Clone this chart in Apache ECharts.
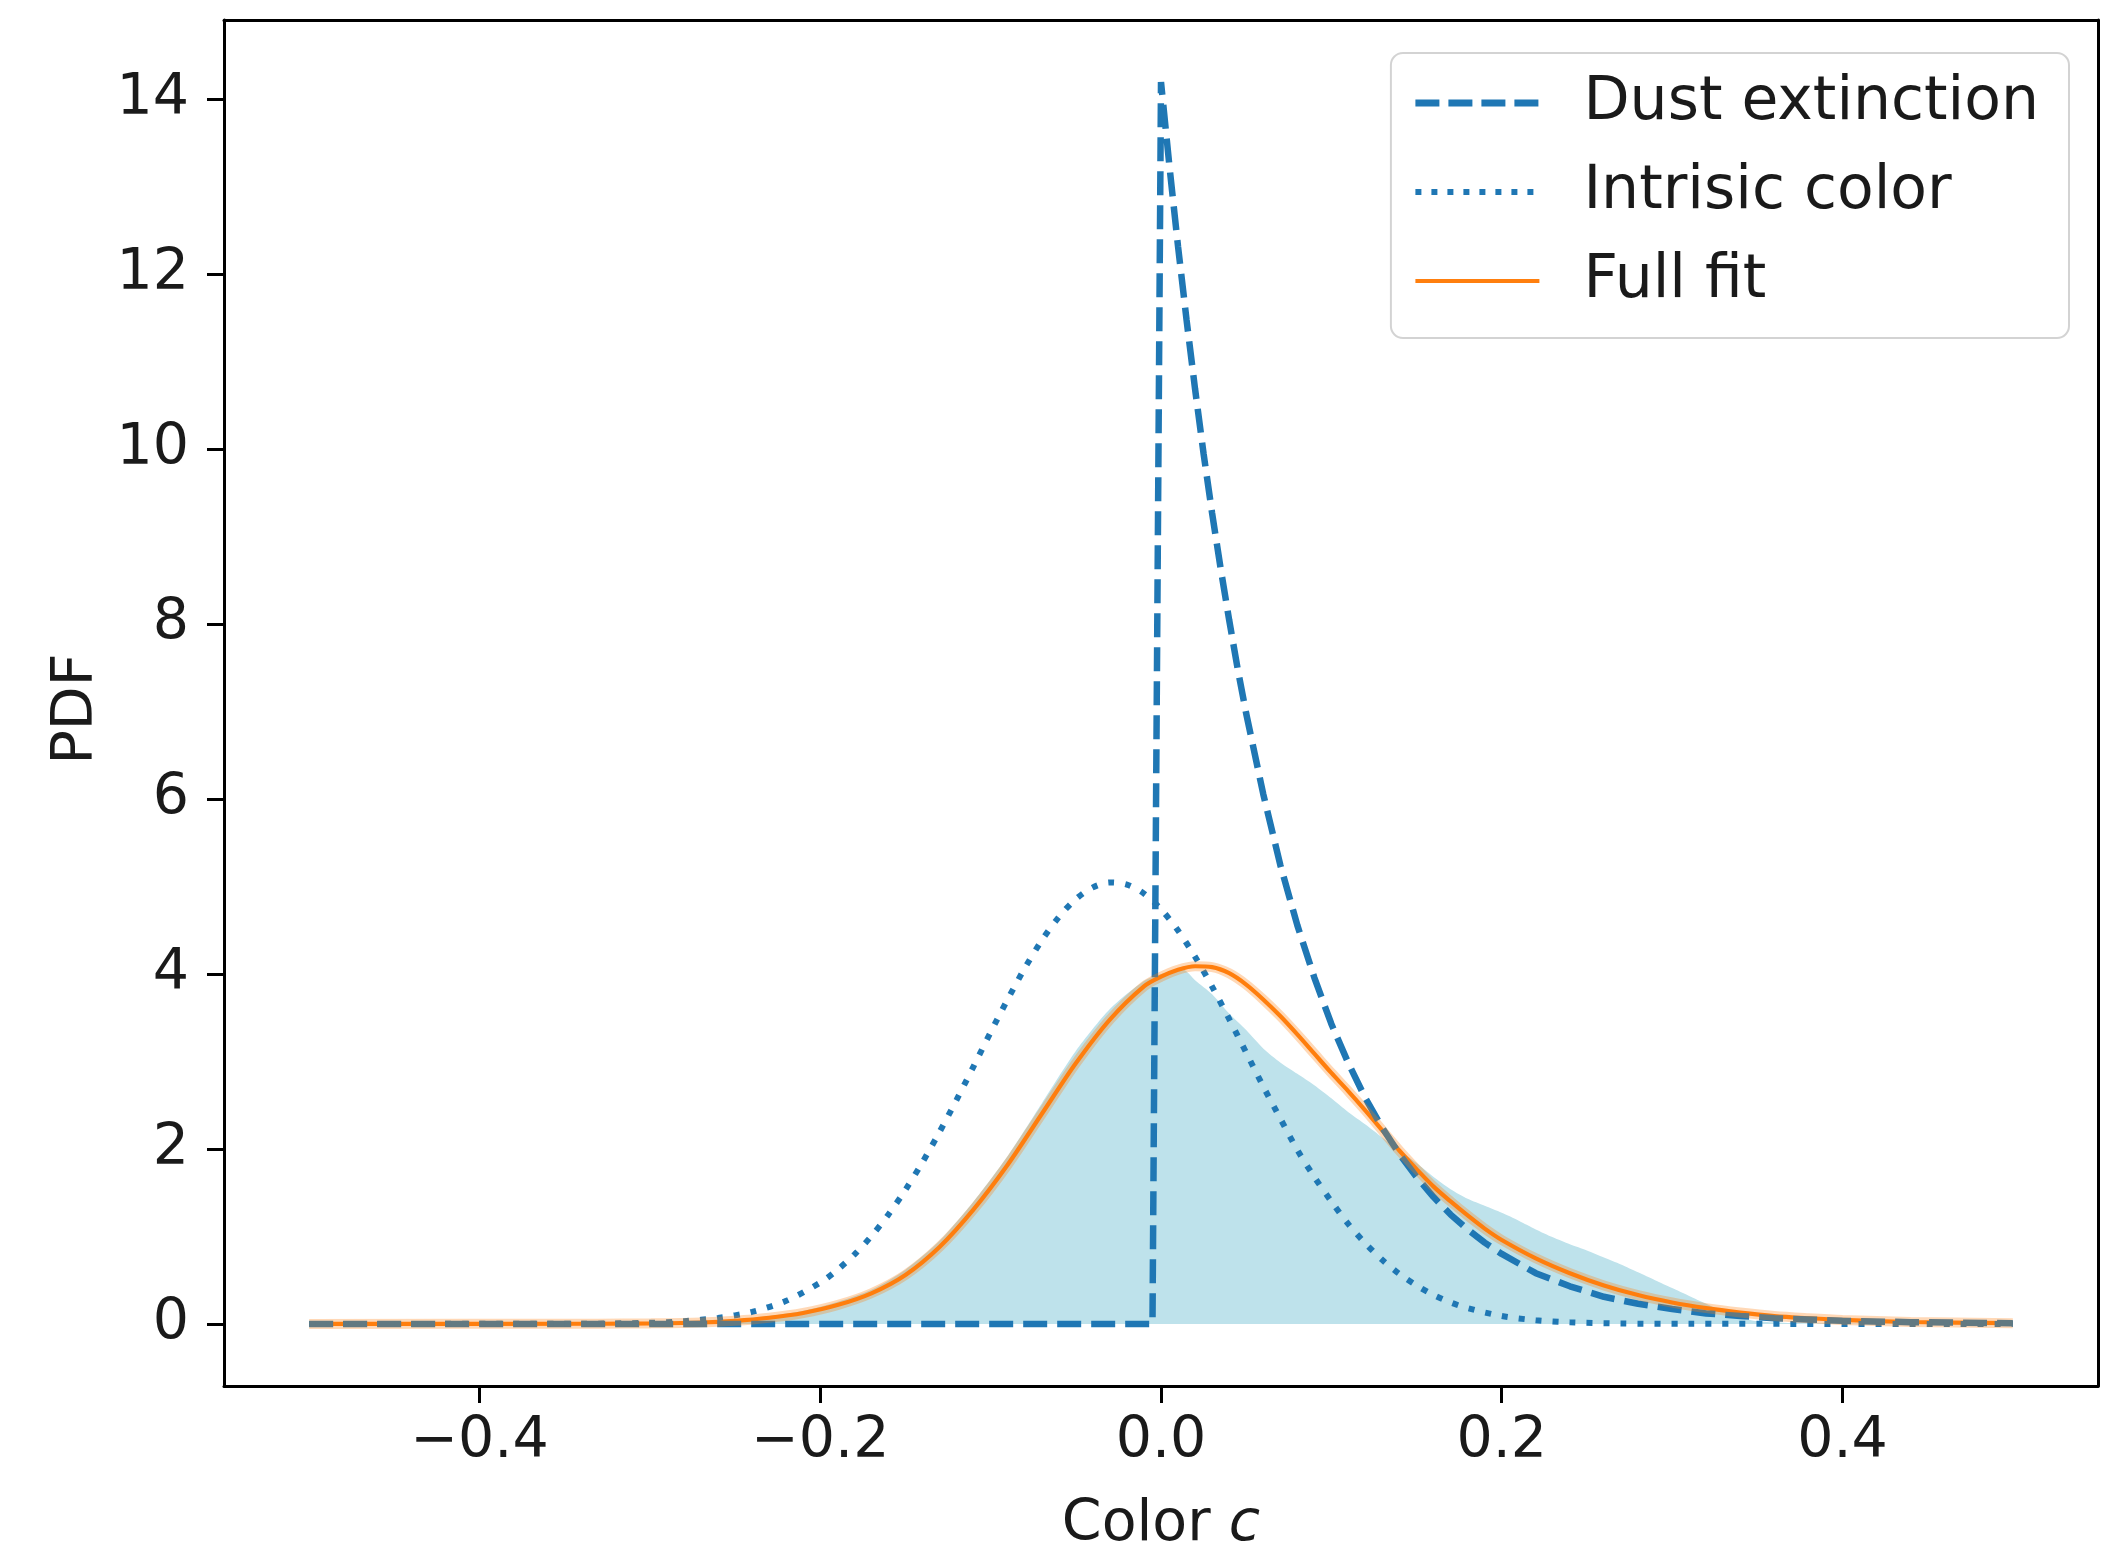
<!DOCTYPE html>
<html>
<head>
<meta charset="utf-8">
<script src="https://cdn.jsdelivr.net/npm/echarts@6/dist/echarts.min.js"></script>
<style>
html,body{margin:0;padding:0;background:#fff;}
#c{width:2120px;height:1546px;}
</style>
</head>
<body>
<div id="c"></div>
<script>
// ---- data ----
var xTicks = [-0.4, -0.2, 0.0, 0.2, 0.4];
var yTicks = [0, 2, 4, 6, 8, 10, 12, 14];

var dustX = [-0.5, -0.005, 0, 0.005, 0.01, 0.015, 0.02, 0.025, 0.03, 0.035, 0.04, 0.045, 0.05, 0.06, 0.07, 0.08, 0.09, 0.10, 0.11, 0.12, 0.13, 0.14, 0.15, 0.16, 0.17, 0.18, 0.19, 0.20, 0.22, 0.24, 0.26, 0.28, 0.30, 0.32, 0.34, 0.36, 0.38, 0.40, 0.44, 0.50];
var dustY = [0, 0, 14.2, 13.23, 12.32, 11.48, 10.69, 9.95, 9.27, 8.64, 8.05, 7.49, 6.98, 6.06, 5.25, 4.56, 3.96, 3.43, 2.98, 2.58, 2.24, 1.94, 1.68, 1.45, 1.25, 1.08, 0.93, 0.80, 0.58, 0.43, 0.31, 0.23, 0.17, 0.12, 0.09, 0.065, 0.05, 0.035, 0.02, 0.008];

var intrX = [-0.5, -0.34, -0.30, -0.28, -0.26, -0.24, -0.22, -0.20, -0.19, -0.18, -0.17, -0.16, -0.15, -0.14, -0.13, -0.12, -0.11, -0.10, -0.09, -0.08, -0.07, -0.06, -0.05, -0.04, -0.03, -0.02, -0.01, 0.00, 0.01, 0.02, 0.03, 0.04, 0.05, 0.06, 0.07, 0.08, 0.09, 0.10, 0.11, 0.12, 0.13, 0.14, 0.15, 0.16, 0.17, 0.18, 0.20, 0.22, 0.24, 0.27, 0.31, 0.5];
var intrY = [0, 0.002, 0.013, 0.031, 0.068, 0.138, 0.264, 0.472, 0.617, 0.793, 1.004, 1.25, 1.533, 1.849, 2.195, 2.563, 2.946, 3.335, 3.711, 4.067, 4.385, 4.652, 4.858, 4.992, 5.048, 5.024, 4.921, 4.742, 4.498, 4.199, 3.857, 3.487, 3.102, 2.716, 2.35, 1.99, 1.68, 1.40, 1.14, 0.92, 0.73, 0.57, 0.44, 0.33, 0.245, 0.18, 0.09, 0.042, 0.018, 0.005, 0.001, 0];

var fitX = [-0.5, -0.33, -0.30, -0.27, -0.25, -0.23, -0.21, -0.19, -0.17, -0.15, -0.13, -0.11, -0.09, -0.07, -0.05, -0.03, -0.01, 0.00, 0.01, 0.02, 0.03, 0.04, 0.05, 0.06, 0.07, 0.08, 0.09, 0.10, 0.11, 0.12, 0.13, 0.14, 0.15, 0.16, 0.17, 0.18, 0.19, 0.20, 0.22, 0.24, 0.26, 0.28, 0.30, 0.32, 0.34, 0.36, 0.38, 0.40, 0.44, 0.50];
var fitY = [0, 0.002, 0.006, 0.016, 0.035, 0.07, 0.125, 0.215, 0.35, 0.56, 0.88, 1.31, 1.82, 2.40, 2.98, 3.48, 3.86, 3.97, 4.05, 4.09, 4.08, 4.01, 3.88, 3.71, 3.52, 3.31, 3.09, 2.87, 2.66, 2.44, 2.21, 1.98, 1.77, 1.57, 1.40, 1.24, 1.09, 0.96, 0.75, 0.58, 0.44, 0.33, 0.245, 0.18, 0.13, 0.09, 0.065, 0.045, 0.022, 0.008];

var fillX = [-0.33, -0.30, -0.27, -0.25, -0.23, -0.21, -0.19, -0.17, -0.15, -0.13, -0.11, -0.09, -0.07, -0.05, -0.03, -0.01, 0.00, 0.013, 0.02, 0.03, 0.04, 0.05, 0.06, 0.07, 0.08, 0.09, 0.10, 0.11, 0.12, 0.13, 0.14, 0.15, 0.16, 0.17, 0.18, 0.19, 0.20, 0.21, 0.22, 0.23, 0.24, 0.25, 0.26, 0.27, 0.28, 0.29, 0.30, 0.31, 0.32, 0.33, 0.34, 0.35, 0.37, 0.40, 0.45];
var fillY = [0, 0.005, 0.02, 0.05, 0.09, 0.15, 0.25, 0.39, 0.62, 0.95, 1.40, 1.92, 2.52, 3.12, 3.60, 3.92, 4.00, 4.05, 3.93, 3.77, 3.55, 3.36, 3.15, 2.99, 2.86, 2.73, 2.58, 2.42, 2.28, 2.13, 1.98, 1.84, 1.68, 1.54, 1.43, 1.35, 1.27, 1.18, 1.08, 0.99, 0.91, 0.84, 0.76, 0.68, 0.59, 0.50, 0.41, 0.32, 0.23, 0.14, 0.07, 0.03, 0.01, 0.005, 0];

function pairs(xs, ys) { return xs.map(function (x, i) { return [x, ys[i]]; }); }

var FONT = 'DejaVu Sans';
var FS = 57;
var LFS = 60;
var BLUE = '#1f77b4';
var ORANGE = '#ff7f0e';

var chart = echarts.init(document.getElementById('c'), null, {renderer: 'canvas'});

var baseAxisLine = {show: true, onZero: false, lineStyle: {color: '#000', width: 3}};
var hiddenSymbol = {opacity: 0, borderWidth: 0};

var option = {
  animation: false,
  backgroundColor: '#fff',
  grid: {left: 224, right: 22, top: 20, bottom: 160, containLabel: false, outerBoundsMode: 'none'},
  legend: {
    orient: 'vertical',
    right: 51,
    top: 53,
    data: [
      {name: 'Dust extinction', itemStyle: hiddenSymbol, lineStyle: {width: 7, color: BLUE, type: [24, 9], cap: 'butt'}},
      {name: 'Intrisic color', itemStyle: hiddenSymbol, lineStyle: {width: 6, color: BLUE, type: [6, 10], cap: 'butt'}},
      {name: 'Full fit', itemStyle: hiddenSymbol, lineStyle: {width: 4.2, color: ORANGE, type: 'solid'}}
    ],
    itemWidth: 124,
    itemHeight: 20,
    itemGap: 29,
    padding: [20, 30, 27, 21],
    backgroundColor: 'rgba(255,255,255,0.8)',
    borderColor: 'rgba(200,200,200,0.8)',
    borderWidth: 2,
    borderRadius: 12,
    textStyle: {fontFamily: FONT, fontSize: LFS, color: '#1a1a1a', lineHeight: 60, padding: [0, 0, 0, 39]}
  },
  xAxis: [{
    type: 'value', min: -0.55, max: 0.55,
    axisLine: baseAxisLine,
    axisTick: {show: true, inside: false, length: 17, lineStyle: {color: '#000', width: 3}, customValues: xTicks},
    axisLabel: {
      show: true, margin: 28, customValues: xTicks,
      fontFamily: FONT, fontSize: FS, color: '#1a1a1a',
      formatter: function (v) { return (v < 0 ? '\u2212' : '') + Math.abs(v).toFixed(1); }
    },
    splitLine: {show: false},
    name: '{n|Color }{i|c}',
    nameLocation: 'middle',
    nameGap: 111,
    nameTextStyle: {
      rich: {
        n: {fontFamily: FONT, fontSize: FS, color: '#1a1a1a'},
        i: {fontFamily: FONT, fontSize: FS, fontStyle: 'italic', color: '#1a1a1a'}
      }
    }
  }, {
    type: 'value', min: -0.55, max: 0.55, position: 'top',
    axisLine: baseAxisLine, axisTick: {show: false}, axisLabel: {show: false}, splitLine: {show: false}
  }],
  yAxis: [{
    type: 'value', min: -0.71, max: 14.91,
    axisLine: baseAxisLine,
    axisTick: {show: true, inside: false, length: 17, lineStyle: {color: '#000', width: 3}, customValues: yTicks},
    axisLabel: {
      show: true, margin: 35, customValues: yTicks,
      fontFamily: FONT, fontSize: FS, color: '#1a1a1a',
      formatter: function (v) { return String(Math.round(v)); }
    },
    splitLine: {show: false},
    name: 'PDF',
    nameLocation: 'middle',
    nameRotate: 90,
    nameGap: 115,
    nameTextStyle: {fontFamily: FONT, fontSize: FS, color: '#1a1a1a', padding: [0, 12, 0, 0]}
  }, {
    type: 'value', min: -0.71, max: 14.91, position: 'right',
    axisLine: baseAxisLine, axisTick: {show: false}, axisLabel: {show: false}, splitLine: {show: false}
  }],
  series: [
    {
      name: 'data', type: 'line', z: 1,
      data: pairs(fillX, fillY),
      symbol: 'none', smooth: 0.25,
      lineStyle: {width: 0, color: 'rgb(190,226,235)'},
      areaStyle: {color: 'rgb(190,226,235)', opacity: 1},
      silent: true
    },
    {
      name: 'Full fit', type: 'line', z: 2,
      data: pairs(fitX, fitY),
      symbol: 'none', smooth: 0.3,
      lineStyle: {width: 4.2, color: ORANGE},
      itemStyle: {color: ORANGE}
    },
    {
      name: 'Dust extinction', type: 'line', z: 3,
      data: pairs(dustX, dustY),
      symbol: 'none', smooth: false,
      lineStyle: {width: 6.5, color: BLUE, type: [24, 10], cap: 'butt'},
      itemStyle: {color: BLUE}
    },
    {
      name: 'Intrisic color', type: 'line', z: 3,
      data: pairs(intrX, intrY),
      symbol: 'none', smooth: 0.3,
      lineStyle: {width: 6, color: BLUE, type: [6, 11], cap: 'butt'},
      itemStyle: {color: BLUE}
    },
    {
      name: 'fit band', type: 'line', z: 4,
      data: pairs(fitX, fitY),
      symbol: 'none', smooth: 0.3,
      lineStyle: {width: 10, color: 'rgba(255,127,14,0.3)'},
      silent: true
    }
  ]
};
chart.setOption(option);
</script>
</body>
</html>
